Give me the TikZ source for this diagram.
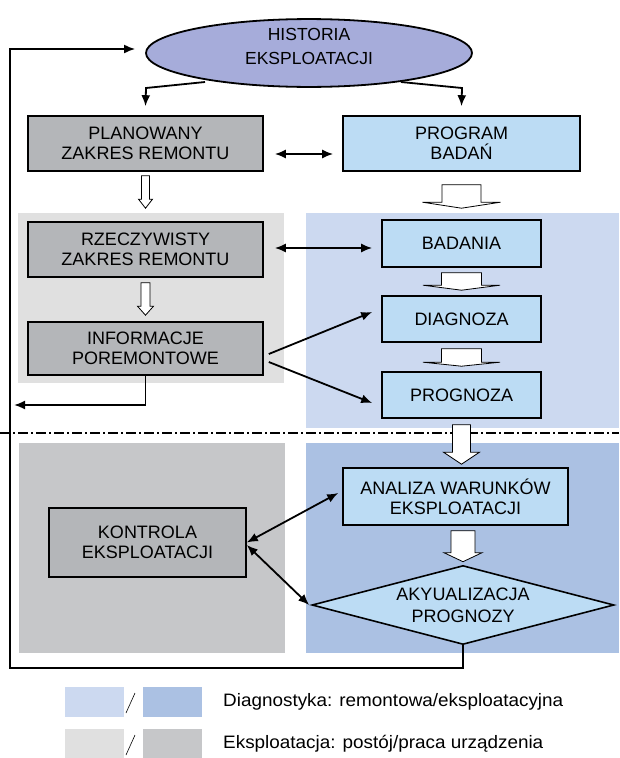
\documentclass[tikz,border=0pt]{standalone}
\usepackage{fontspec}
\setmainfont{Liberation Sans}
\newfontfamily\legfont[FakeStretch=1.05]{Liberation Sans}
\usepackage{tikz}
\usetikzlibrary{arrows.meta,positioning,shapes.geometric,calc}

\definecolor{histfill}{RGB}{166,172,218}
\definecolor{grayblock}{RGB}{180,182,185}
\definecolor{blueblock}{RGB}{188,220,244}
\definecolor{graylight}{RGB}{224,224,224}
\definecolor{graydark}{RGB}{198,199,201}
\definecolor{bluelight}{RGB}{204,217,240}
\definecolor{bluedark}{RGB}{171,193,227}

% hollow arrow: start, end (x taken from end), top gap, tip gap, head length, half shaft, half head
\newcommand{\hollowarrow}[7]{%
  \draw[hollow] let \p1=(#1), \p2=(#2) in
    (\x2-#6pt,\y1-#3pt) -- (\x2+#6pt,\y1-#3pt) -- (\x2+#6pt,\y2+#4pt+#5pt)
    -- (\x2+#7pt,\y2+#4pt+#5pt) -- (\x2,\y2+#4pt) -- (\x2-#7pt,\y2+#4pt+#5pt)
    -- (\x2-#6pt,\y2+#4pt+#5pt) -- cycle;
}

\begin{document}
\begin{tikzpicture}[
    x=1pt, y=-1pt,
    >={Latex[length=11pt,width=9pt]},
    block/.style={
		rectangle,
		draw=black,
		line width=1.6pt,
		inner sep=0pt,
		align=center,
		font=\fontsize{18}{20}\selectfont
	},
	grayb/.style={block, fill=grayblock},
	blueb/.style={block, fill=blueblock},
	conn/.style={line width=1.8pt},
	hollow/.style={draw=black, line width=0.8pt, fill=white},
	patch/.style={
		rectangle,
		inner sep=0pt,
		outer sep=0pt,
		minimum width=59pt,
		minimum height=30pt
	},
	legtext/.style={
		inner sep=0pt,
		anchor=west,
		font=\legfont\fontsize{18}{20}\selectfont
	}
  ]
  \useasboundingbox (0,0) rectangle (619,758);

  % background areas
  \fill[graylight] (18,213) rectangle (284,383);
  \fill[bluelight] (306,213) rectangle (619,428);
  \fill[graydark] (19,443) rectangle (285,653);
  \fill[bluedark] (306,443) rectangle (619,653);

  \draw[line width=2pt, dash pattern=on 10pt off 3pt on 2pt off 3pt] (0,433) -- (619,433);

  % blocks
  \node [ellipse, draw=black, line width=1.8pt, fill=histfill, minimum width=326pt,
         minimum height=60pt, inner sep=0pt,
         font=\fontsize{17.5}{24}\selectfont] (hist) at (309,53)
  {\raisebox{5pt}[\height][\depth]{\begin{tabular}{@{}c@{}}HISTORIA\\EKSPLOATACJI\end{tabular}}};

  \node [grayb, minimum width=235pt, minimum height=55pt] (plan) at (145.5,143.5)
  {PLANOWANY\\ZAKRES REMONTU};
  \node [blueb, minimum width=237pt, minimum height=55pt] (progbad) at (461.5,143.5)
  {PROGRAM\\BADAŃ};

  \node [grayb, minimum width=235pt, minimum height=55pt] (rzecz) at (145.5,249.5)
  {RZECZYWISTY\\ZAKRES REMONTU};
  \node [grayb, minimum width=235pt, minimum height=53pt] (info) at (145.5,348.5)
  {INFORMACJE\\POREMONTOWE};

  \node [blueb, minimum width=159pt, minimum height=47pt] (badania) at (461.5,243.5) {BADANIA};
  \node [blueb, minimum width=159pt, minimum height=46pt] (diag) at (461.5,319) {DIAGNOZA};
  \node [blueb, minimum width=159pt, minimum height=46pt] (progn) at (461.5,395) {PROGNOZA};

  \node [blueb, minimum width=225pt, minimum height=57pt] (analiza) at (455.5,496.5)
  {ANALIZA WARUNKÓW\\EKSPLOATACJI};
  \node [diamond, draw=black, line width=1.6pt, fill=blueblock, aspect=3.82,
         minimum width=302pt, minimum height=79pt, inner sep=0pt, align=center,
         font=\fontsize{18}{22}\selectfont] (akt) at (463,605)
  {AKYUALIZACJA\\PROGNOZY};
  \node [grayb, minimum width=197pt, minimum height=69pt] (kontrola) at (147.5,542.5)
  {KONTROLA\\EKSPLOATACJI};

  % hollow arrows
  \hollowarrow{plan.south}{rzecz.north}{4}{13}{9}{4}{7}
  \hollowarrow{rzecz.south}{info.north}{5}{6}{9}{4.5}{8}
  \hollowarrow{progbad.south}{badania.north}{13}{11}{6}{19.5}{39}
  \hollowarrow{badania.south}{diag.north}{5}{5}{5}{20}{38.5}
  \hollowarrow{diag.south}{progn.north}{6}{5}{4}{20}{38.5}
  \hollowarrow{progn.south}{progn.south |- analiza.north}{6}{3}{12}{9}{18}
  \hollowarrow{analiza.south -| akt.north}{akt.north}{5}{3}{9}{12}{19}

  % connectors
  \coordinate (hl) at (205,82);
  \coordinate (hr) at (401,82);
  \draw [conn,->] (hl) -- ++(-59,6) -- ([yshift=9pt]plan.north);
  \draw [conn,->] (hr) -- ++(61,6) -- ([yshift=9pt]progbad.north);

  \draw [conn,<->,shorten <=11pt,shorten >=9pt] ([yshift=-10.5pt]plan.east) -- ([yshift=-10.5pt]progbad.west);
  \draw [conn,<->,shorten <=11pt,shorten >=9pt] ([yshift=1.5pt]rzecz.east) -- ([yshift=1.5pt]rzecz.east -| badania.west);

  \draw [conn,->] ([xshift=5pt,yshift=-5.5pt]info.east) -- ([xshift=-9pt,yshift=7pt]diag.west);
  \draw [conn,->] ([xshift=5pt,yshift=-13.5pt]info.east) -- ([xshift=-9pt,yshift=-8pt]progn.west);

  \coordinate (fbin) at (14,405);
  \draw [conn,->] (info.south) |- (fbin);

  \draw [conn,<->] (kontrola.east) -- ([xshift=-4pt,yshift=3.5pt]analiza.west);
  \draw [conn,<->] ([yshift=-2.5pt]kontrola.east) -- ([xshift=-2pt]akt.west);

  \coordinate (fbl) at (10,668);
  \draw [conn,->] (akt.south) |- (fbl) |- ([xshift=-10pt,yshift=4pt]hist.west);

  % legend
  \node [patch, fill=bluelight] (la) at (94.5,702) {};
  \node [patch, fill=bluedark, right=19pt of la] (lb) {};
  \node [legtext, right=21pt of lb] (lt1) {Diagnostyka: remontowa/eksploatacyjna};
  \draw [line width=0.6pt] ($(la.east)+(2,11)$) -- ($(lb.west)+(-8,-9)$);

  \node [patch, fill=graylight] (lc) at (94.5,744) {};
  \node [patch, fill=graydark, right=19pt of lc] (ld) {};
  \node [legtext, right=21pt of ld] (lt2) {Eksploatacja: postój/praca urządzenia};
  \draw [line width=0.6pt] ($(lc.east)+(2,11)$) -- ($(ld.west)+(-8,-9)$);

\end{tikzpicture}
\end{document}
